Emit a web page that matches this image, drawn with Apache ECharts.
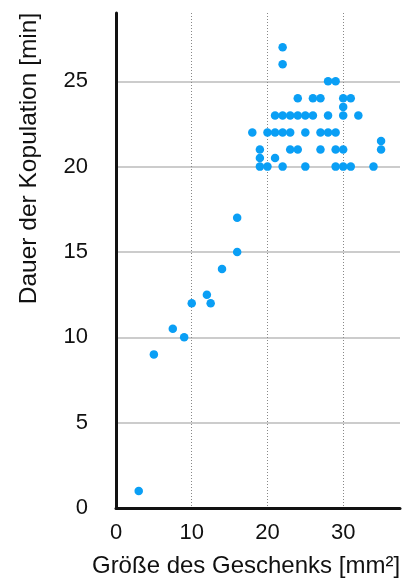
<!DOCTYPE html>
<html>
<head>
<meta charset="utf-8">
<script src="https://cdn.jsdelivr.net/npm/echarts@6/dist/echarts.min.js"></script>
<style>html,body{margin:0;padding:0;background:#fff;}#c{width:412px;height:583px;}</style>
</head>
<body>
<div id="c"></div>
<script>
// Größe des Geschenks [mm²]
var giftSize = [3, 5, 7.5, 9, 10, 12, 12.5, 14, 16, 16,
  22, 22, 28, 29, 24, 26, 27, 30, 31, 30,
  21, 22, 23, 24, 25, 26, 28, 30, 32,
  18, 20, 21, 22, 23, 25, 27, 28, 29,
  19, 23, 24, 27, 29, 30, 35, 35,
  19, 21, 19, 20, 22, 25, 29, 30, 31, 34];
// Dauer der Kopulation [min]
var duration = [1, 9, 10.5, 10, 12, 12.5, 12, 14, 15, 17,
  27, 26, 25, 25, 24, 24, 24, 24, 24, 23.5,
  23, 23, 23, 23, 23, 23, 23, 23, 23,
  22, 22, 22, 22, 22, 22, 22, 22, 22,
  21, 21, 21, 21, 21, 21, 21.5, 21,
  20.5, 20.5, 20, 20, 20, 20, 20, 20, 20, 20];
var xTicks = [0, 10, 20, 30];
var yTicks = [0, 5, 10, 15, 20, 25];

var points = giftSize.map(function (x, i) { return [x, duration[i]]; });
var font = '"Liberation Sans", Arial, Helvetica, sans-serif';

var chart = echarts.init(document.getElementById('c'));
chart.setOption({
  animation: false,
  grid: { left: 116, right: 12, top: 13, bottom: 74.5, containLabel: false },
  xAxis: {
    type: 'value', min: 0, max: 37.5, interval: 10,
    name: 'Größe des Geschenks [mm²]', nameLocation: 'middle', nameGap: 46,
    nameTextStyle: { fontFamily: font, fontSize: 24, color: '#111', padding: [0, 24, 0, 0] },
    axisLine: { show: true, onZero: false, lineStyle: { color: '#111', width: 3 } },
    axisTick: { show: false },
    axisLabel: { fontFamily: font, fontSize: 22, color: '#111', margin: 14,
      showMaxLabel: false,
      formatter: function (v) { return xTicks.indexOf(v) >= 0 ? String(v) : ''; } },
    splitLine: { show: true, showMinLine: false, showMaxLine: false,
      lineStyle: { color: '#888', width: 1, type: [1, 2] } }
  },
  yAxis: {
    type: 'value', min: 0, max: 29, interval: 5,
    name: 'Dauer der Kopulation [min]', nameLocation: 'middle', nameGap: 74,
    nameTextStyle: { fontFamily: font, fontSize: 24.5, color: '#111', padding: [0, 0, 0, 204] },
    axisLine: { show: true, onZero: false, lineStyle: { color: '#111', width: 3 } },
    axisTick: { show: false },
    axisLabel: { fontFamily: font, fontSize: 22, color: '#111', margin: 28,
      showMaxLabel: false,
      formatter: function (v) { return yTicks.indexOf(v) >= 0 ? String(v) : ''; } },
    splitLine: { show: true, showMinLine: false, showMaxLine: false,
      lineStyle: { color: '#bbbbbb', width: 1.5 } }
  },
  series: [{
    type: 'scatter',
    data: points,
    symbol: 'circle',
    symbolSize: 8.5,
    itemStyle: { color: '#0a9ff5', opacity: 1 }
  }]
});
</script>
</body>
</html>
